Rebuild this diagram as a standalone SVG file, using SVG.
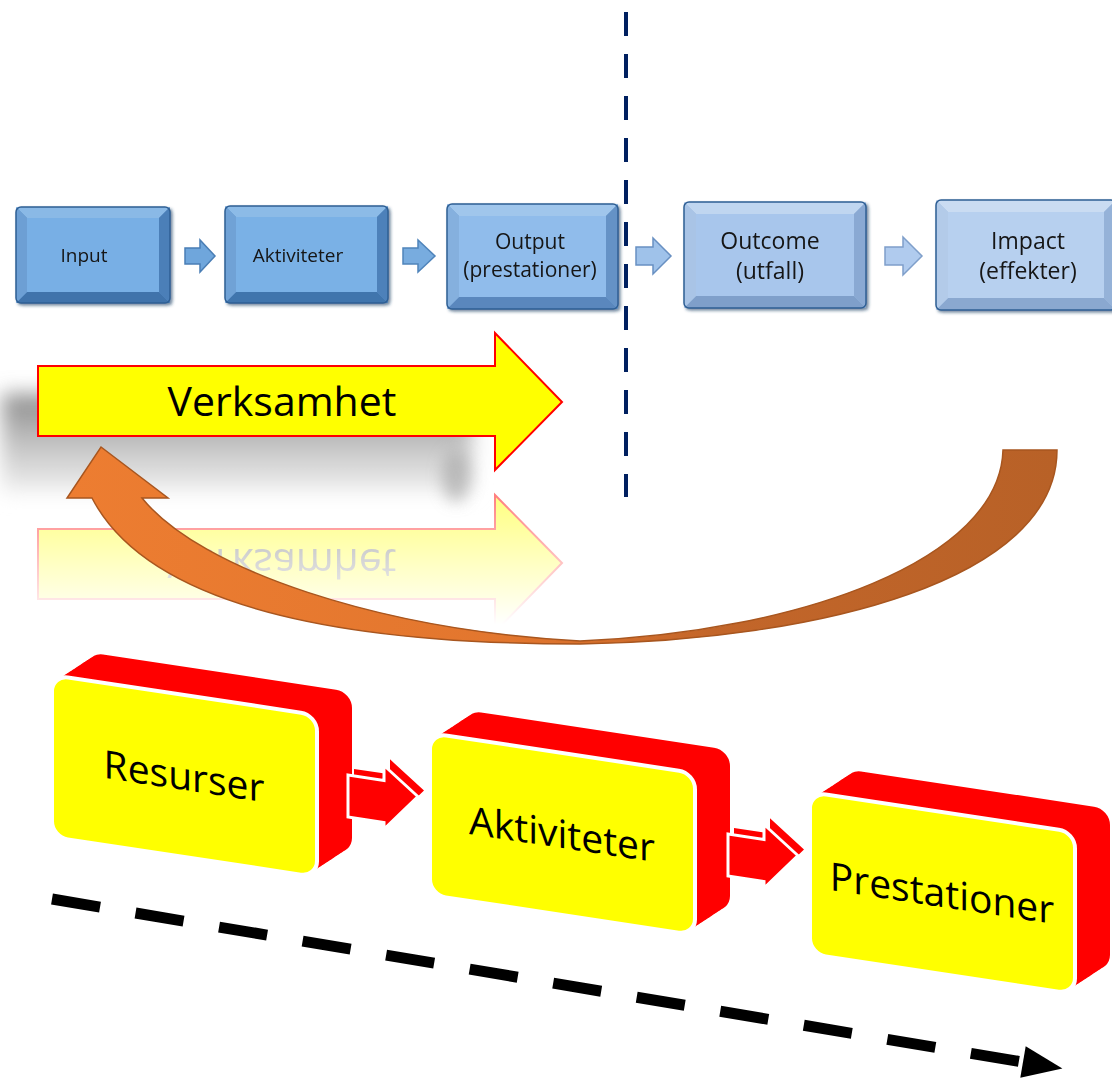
<svg xmlns="http://www.w3.org/2000/svg" xmlns:xlink="http://www.w3.org/1999/xlink" width="1112" height="1078" viewBox="0 0 1112 1078">
<defs>
<style>
.t{font-family:"Open Sans","Liberation Sans",sans-serif;fill:#151515;text-anchor:middle}
.bt{font-family:"Open Sans","Liberation Sans",sans-serif;font-size:39px;fill:#000;text-anchor:middle}
.vt{font-family:"Open Sans","Liberation Sans",sans-serif;font-size:41px;text-anchor:middle}
.ol{fill:none;stroke:#2f5f94;stroke-width:1.5}
.red{fill:#ff0000}
.yface{fill:#ffff00;stroke:#ffffff;stroke-width:4}
</style>
<linearGradient id="og" x1="0" y1="0" x2="1" y2="0">
<stop offset="0" stop-color="#ed7d31"/><stop offset="0.45" stop-color="#e2762e"/><stop offset="0.65" stop-color="#c3662a"/><stop offset="1" stop-color="#b86127"/>
</linearGradient>
<linearGradient id="shg" x1="0" y1="0" x2="0" y2="1">
<stop offset="0" stop-color="#8a8a8a"/><stop offset="0.5" stop-color="#c2c2c2"/><stop offset="1" stop-color="#f0f0f0"/>
</linearGradient>
<filter id="blur" x="-20%" y="-60%" width="140%" height="220%"><feGaussianBlur stdDeviation="10"/></filter>
<filter id="blur2" x="-100%" y="-100%" width="300%" height="300%"><feGaussianBlur stdDeviation="8"/></filter>
<filter id="ds" x="-10%" y="-10%" width="125%" height="130%"><feDropShadow dx="2" dy="2" stdDeviation="1.5" flood-color="#1f3f66" flood-opacity="0.6"/></filter>
<linearGradient id="rg" gradientUnits="userSpaceOnUse" x1="0" y1="495" x2="0" y2="625">
<stop offset="0" stop-color="#fff" stop-opacity="0.5"/><stop offset="1" stop-color="#fff" stop-opacity="0"/>
</linearGradient>
<mask id="rm" maskUnits="userSpaceOnUse" x="0" y="480" width="600" height="170"><rect x="0" y="480" width="600" height="170" fill="url(#rg)"/></mask>
<path id="varrow" d="M38,366 H495 V333 L562,402 L495,470 V436 H38 Z"/>
<rect id="face" width="265" height="162" rx="16"/>
<polygon id="rarr" points="0,3 36,3 36,-12 70,14 36,52 36,45 0,45"/>
<g id="ext">
<use xlink:href="#face" x="3.5" y="-2.83"/><use xlink:href="#face" x="7" y="-5.66"/><use xlink:href="#face" x="10.5" y="-8.49"/><use xlink:href="#face" x="14" y="-11.32"/><use xlink:href="#face" x="17.5" y="-14.15"/><use xlink:href="#face" x="21" y="-16.98"/><use xlink:href="#face" x="24.5" y="-19.81"/><use xlink:href="#face" x="28" y="-22.64"/><use xlink:href="#face" x="31.5" y="-25.47"/><use xlink:href="#face" x="35" y="-28.3"/>
</g>
</defs>

<rect width="1112" height="1078" fill="#ffffff"/>

<!-- Top chain -->
<g id="n-input" filter="url(#ds)">
<rect x="16" y="207" width="154" height="96" rx="5" fill="#5a8fc9"/>
<polygon points="16,207 170,207 159,218 27,218" fill="#8ab9e6"/>
<polygon points="16,303 170,303 159,292 27,292" fill="#3f73ab"/>
<polygon points="16,207 27,218 27,292 16,303" fill="#6d9fd4"/>
<polygon points="170,207 159,218 159,292 170,303" fill="#4b7fb8"/>
<rect x="27" y="218" width="132" height="74" fill="#78afe5"/>
<rect x="16" y="207" width="154" height="96" rx="5" class="ol"/>
<text x="84" y="262" class="t" font-size="19">Input</text>
</g>
<g id="n-aktiviteter-top" filter="url(#ds)">
<rect x="225" y="206" width="163" height="97" rx="5" fill="#5c91ca"/>
<polygon points="225,206 388,206 377,217 236,217" fill="#8cbbe7"/>
<polygon points="225,303 388,303 377,292 236,292" fill="#4175ad"/>
<polygon points="225,206 236,217 236,292 225,303" fill="#70a2d6"/>
<polygon points="388,206 377,217 377,292 388,303" fill="#4d81ba"/>
<rect x="236" y="217" width="141" height="75" fill="#7ab1e6"/>
<rect x="225" y="206" width="163" height="97" rx="5" class="ol"/>
<text x="298" y="262" class="t" font-size="19">Aktiviteter</text>
</g>
<g id="n-output" filter="url(#ds)">
<rect x="447" y="204" width="171" height="105" rx="5" fill="#6e9fd3"/>
<polygon points="447,204 618,204 606,216 459,216" fill="#a0c6ec"/>
<polygon points="447,309 618,309 606,297 459,297" fill="#5a87bd"/>
<polygon points="447,204 459,216 459,297 447,309" fill="#85b0de"/>
<polygon points="618,204 606,216 606,297 618,309" fill="#6592c6"/>
<rect x="459" y="216" width="147" height="81" fill="#90bceb"/>
<rect x="447" y="204" width="171" height="105" rx="5" class="ol"/>
<text x="530" y="249" class="t" font-size="21">Output</text>
<text x="530" y="277" class="t" font-size="21">(prestationer)</text>
</g>
<g id="n-outcome" filter="url(#ds)">
<rect x="684" y="202" width="182" height="106" rx="5" fill="#98b8df"/>
<polygon points="684,202 866,202 854,214 696,214" fill="#c0d6f0"/>
<polygon points="684,308 866,308 854,296 696,296" fill="#7f9fca"/>
<polygon points="684,202 696,214 696,296 684,308" fill="#a9c4e6"/>
<polygon points="866,202 854,214 854,296 866,308" fill="#8aa9d3"/>
<rect x="696" y="214" width="158" height="82" fill="#a8c6ec"/>
<rect x="684" y="202" width="182" height="106" rx="5" class="ol" stroke="#5a7fae"/>
<text x="770" y="249" class="t" font-size="23">Outcome</text>
<text x="770" y="279" class="t" font-size="23">(utfall)</text>
</g>
<g id="n-impact" filter="url(#ds)">
<rect x="936" y="200" width="180" height="110" rx="5" fill="#a2c0e4"/>
<polygon points="936,200 1116,200 1104,212 948,212" fill="#cadcf2"/>
<polygon points="936,310 1116,310 1104,298 948,298" fill="#8aa8d0"/>
<polygon points="936,200 948,212 948,298 936,310" fill="#b3cbe9"/>
<polygon points="1116,200 1104,212 1104,298 1116,310" fill="#95b2d8"/>
<rect x="948" y="212" width="156" height="86" fill="#b7d0ef"/>
<rect x="936" y="200" width="180" height="110" rx="5" class="ol" stroke="#6585b3"/>
<text x="1028" y="249" class="t" font-size="23">Impact</text>
<text x="1028" y="279" class="t" font-size="23">(effekter)</text>
</g>

<!-- Verksamhet: reflection, shadow, arrow -->
<g id="n-verksamhet-reflection" mask="url(#rm)">
<g transform="translate(0,965) scale(1,-1)">
<use xlink:href="#varrow" fill="#ffff00" stroke="#ff0000" stroke-width="2"/>
<text x="282" y="416" class="vt" fill="#555">Verksamhet</text>
</g>
</g>
<g id="n-verksamhet-shadow">
<rect x="2" y="394" width="470" height="98" fill="url(#shg)" filter="url(#blur)"/>
<ellipse cx="456" cy="476" rx="14" ry="26" fill="#a8a8a8" opacity="0.7" filter="url(#blur2)"/>
</g>
<g id="n-verksamhet">
<use xlink:href="#varrow" fill="#ffff00" stroke="#ff0000" stroke-width="2"/>
<text x="282" y="416" class="vt" fill="#000">Verksamhet</text>
</g>

<!-- Bottom 3D boxes -->
<g id="n-resurser" transform="translate(52,675) skewY(8.6)">
<use xlink:href="#ext" class="red"/>
<use xlink:href="#face" class="yface"/>
<text x="132" y="95" class="bt">Resurser</text>
</g>
<g id="n-aktiviteter" transform="translate(430,733) skewY(8.6)">
<use xlink:href="#ext" class="red"/>
<use xlink:href="#face" class="yface"/>
<text x="132" y="95" class="bt">Aktiviteter</text>
</g>
<g id="n-prestationer" transform="translate(810,792) skewY(8.6)">
<use xlink:href="#ext" class="red"/>
<use xlink:href="#face" class="yface"/>
<text x="132" y="95" class="bt">Prestationer</text>
</g>

<!-- Connectors -->
<g id="connectors">
<polygon points="185,248 200,248 200,240 215,256 200,272 200,264 185,264" fill="#6fa6dc" stroke="#4a7eb5" stroke-width="1.5"/>
<polygon points="403,248 418,248 418,240 435,256 418,272 418,264 403,264" fill="#78acdf" stroke="#4f84bb" stroke-width="1.5"/>
<polygon points="636,247 653,247 653,238 671,256 653,274 653,265 636,265" fill="#9fc2ea" stroke="#6890c2" stroke-width="1.5"/>
<polygon points="885,247 903,247 903,237 922,256 903,275 903,265 885,265" fill="#b0cbee" stroke="#7f9fca" stroke-width="1.5"/>
<line x1="626" y1="12" x2="626" y2="497" stroke="#002060" stroke-width="4" stroke-dasharray="24 18"/>
<path d="M101,447 L168,498 L142,498 C200,570 380,630 580,641 C800,632 1000,560 1003,450 L1057,450 C1057,580 820,640 580,644 C350,644 150,610 92,498 L67,498 Z" fill="url(#og)" stroke="#a8561f" stroke-width="1.5" stroke-linejoin="miter"/>
<g transform="translate(348,772) skewY(8.6)">
<use xlink:href="#rarr" x="6" y="-7" class="red"/>
<use xlink:href="#rarr" class="red" stroke="#fff" stroke-width="3"/>
</g>
<g transform="translate(728,831) skewY(8.6)">
<use xlink:href="#rarr" x="6" y="-7" class="red"/>
<use xlink:href="#rarr" class="red" stroke="#fff" stroke-width="3"/>
</g>
<line x1="52" y1="899" x2="1020" y2="1061.6" stroke="#000" stroke-width="11" stroke-dasharray="48.7 36"/>
<polygon points="1025.7,1046.2 1062.4,1068.6 1020.3,1077.8" fill="#000"/>
</g>
</svg>
